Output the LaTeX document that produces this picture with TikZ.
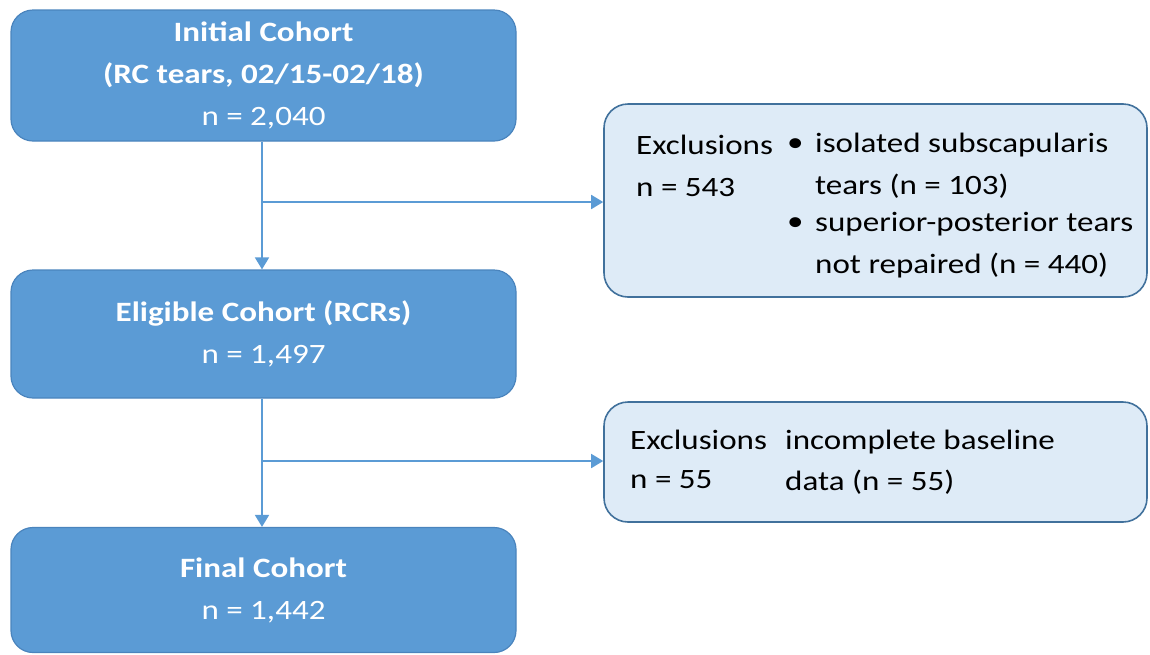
\documentclass[tikz,border=0pt]{standalone}
\usepackage{fontspec}
\setmainfont{Carlito}[FakeStretch=1.18]
\usetikzlibrary{arrows.meta}
\definecolor{boxblue}{HTML}{5B9BD5}
\definecolor{boxedge}{HTML}{4A84BD}
\definecolor{lightfill}{HTML}{DEEBF7}
\definecolor{lightedge}{HTML}{41719C}
\definecolor{arrowblue}{HTML}{5B9BD5}
\tikzset{
  mainbox/.style={draw=boxedge, line width=1.2pt, fill=boxblue, rounded corners=22pt,
    text=white, align=center, inner sep=0pt,
    font=\fontsize{28}{42}\selectfont},
  exclbox/.style={draw=lightedge, line width=1.6pt, fill=lightfill, rounded corners=24pt, inner sep=0pt},
  txt/.style={anchor=west, inner sep=0pt, text=black, font=\fontsize{28}{32}\selectfont},
  flow/.style={draw=arrowblue, line width=1.8pt, -{Triangle[width=14pt,length=12pt]}},
}
\begin{document}
\begin{tikzpicture}[x=1pt,y=-1pt]
\useasboundingbox (0,0) rectangle (1150,654);
% main boxes
\node[mainbox, minimum width=505pt, minimum height=131pt] (b1) at (263.5,75.5)
  {\textbf{Initial Cohort}\\\textbf{(RC tears, 02/15-02/18)}\\n = 2,040};
\node[mainbox, minimum width=505pt, minimum height=128pt] (b2) at (263.5,334)
  {\textbf{Eligible Cohort (RCRs)}\\n = 1,497};
\node[mainbox, minimum width=505pt, minimum height=125pt] (b3) at (263.5,590)
  {\textbf{Final Cohort}\\n = 1,442};
% exclusion boxes
\node[exclbox, minimum width=543pt, minimum height=193pt] (e1) at (875.5,200.5) {};
\node[exclbox, minimum width=543pt, minimum height=120pt] (e2) at (875.5,462) {};
% texts of exclusion box 1
\node[txt] (e1a) at (636,145) {Exclusions};
\node[txt] (e1b) at (636,188) {n = 543};
\node[txt] (e1c) at (787,145) {\textbullet};
\node[txt] (e1d) at (815,145) {isolated subscapularis};
\node[txt] (e1e) at (815,186) {tears (n = 103)};
\node[txt] (e1f) at (787,224) {\textbullet};
\node[txt] (e1g) at (815,224) {superior-posterior tears};
\node[txt] (e1h) at (815,266) {not repaired (n = 440)};
% texts of exclusion box 2
\node[txt] (e2a) at (630,440) {Exclusions};
\node[txt] (e2b) at (630,480) {n = 55};
\node[txt] (e2c) at (785,442) {incomplete baseline};
\node[txt] (e2d) at (785,482) {data (n = 55)};
% connectors
\coordinate (j1) at (262,202);
\coordinate (j2) at (262,461);
\draw[flow] (b1.south -| j1) -- (b2.north -| j1);
\draw[flow] (j1) -- (j1 -| e1.west);
\draw[flow] (b2.south -| j2) -- (b3.north -| j2);
\draw[flow] (j2) -- (j2 -| e2.west);
\end{tikzpicture}
\end{document}
